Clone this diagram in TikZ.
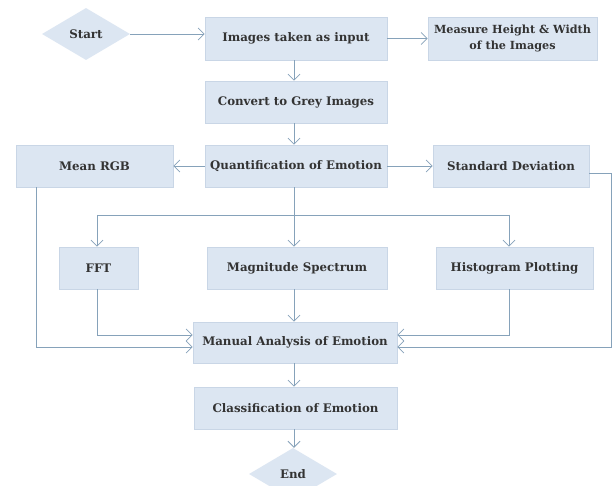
\documentclass[tikz,border=0pt]{standalone}
\usepackage{fontspec}
\setmainfont{DejaVu Serif}
\usetikzlibrary{shapes.geometric,arrows.meta}
\definecolor{boxfill}{HTML}{DCE6F2}
\definecolor{boxline}{HTML}{C9D6E6}
\definecolor{conn}{HTML}{86A2BA}
\definecolor{txt}{HTML}{333333}
\tikzset{
  stepbox/.style={rectangle,fill=boxfill,draw=boxline,line width=0.6pt,inner sep=0pt,
    text=txt,font=\bfseries\fontsize{11.8}{13}\selectfont,align=center},
  twoline/.style={stepbox,font=\bfseries\fontsize{11.2}{16.5}\selectfont},
  termbox/.style={diamond,fill=boxfill,draw=none,inner sep=0pt,
    minimum width=88pt,minimum height=52pt,text=txt,font=\bfseries\fontsize{11.8}{13}\selectfont},
  conline/.style={draw=conn,line width=0.8pt},
  arr/.style={conline,-{Straight Barb[length=6pt,width=12pt,line width=0.8pt]}}
}
\begin{document}
\begin{tikzpicture}[x=1pt,y=-1pt]
\useasboundingbox (0,0) rectangle (613,486);
\fill[white] (0,0) rectangle (613,486);
\node[termbox] (start) at (86,34) {Start};
\node[stepbox,minimum width=182pt,minimum height=43pt] (img) at (296,38.5) {Images taken as input};
\node[twoline,minimum width=169pt,minimum height=43pt] (meas) at (512.5,38.5) {Measure Height \& Width\\of the Images};
\node[stepbox,minimum width=182pt,minimum height=42pt] (conv) at (296,102) {Convert to Grey Images};
\node[stepbox,minimum width=182pt,minimum height=42pt] (quant) at (296,166) {Quantification of Emotion};
\node[stepbox,minimum width=157pt,minimum height=42pt] (mean) at (94.5,166) {Mean RGB};
\node[stepbox,minimum width=156pt,minimum height=42pt] (std) at (511,166) {Standard Deviation};
\node[stepbox,minimum width=79pt,minimum height=42pt] (fft) at (98.5,268) {FFT};
\node[stepbox,minimum width=180pt,minimum height=42pt] (mag) at (297,268) {Magnitude Spectrum};
\node[stepbox,minimum width=157pt,minimum height=42pt] (hist) at (514.5,268) {Histogram Plotting};
\node[stepbox,minimum width=204pt,minimum height=41pt] (man) at (295,342.5) {Manual Analysis of Emotion};
\node[stepbox,minimum width=203pt,minimum height=42pt] (cls) at (295.5,408) {Classification of Emotion};
\node[termbox] (end) at (293,474) {End};

\coordinate (br) at (294,215);
\coordinate (brL) at (97,215);
\coordinate (brR) at (509,215);
\coordinate (m1) at (36,347);
\coordinate (f1) at (97,335);
\coordinate (h1) at (509,335);
\coordinate (s1) at (611,173);
\coordinate (s2) at (611,347);

\draw[arr] (start.east) -- (img.west |- start.east);
\draw[arr] (img.east) -- (meas.west);
\draw[arr] (img.south -| br) -- (conv.north -| br);
\draw[arr] (conv.south -| br) -- (quant.north -| br);
\draw[arr] (quant.west) -- (mean.east);
\draw[arr] (quant.east) -- (std.west);
\draw[arr] (quant.south -| br) -- (mag.north -| br);
\draw[conline] (brL) -- (brR);
\draw[arr] (brL) -- (fft.north -| brL);
\draw[arr] (brR) -- (hist.north -| brR);
\draw[arr] (mean.south -| m1) -- (m1) -- (man.west |- m1);
\draw[arr] (fft.south -| f1) -- (f1) -- (man.west |- f1);
\draw[arr] (mag.south -| br) -- (man.north -| br);
\draw[arr] (hist.south -| h1) -- (h1) -- (man.east |- h1);
\draw[arr] (std.east |- s1) -- (s1) -- (s2) -- (man.east |- s2);
\draw[arr] (man.south -| br) -- (cls.north -| br);
\draw[arr] (cls.south -| br) -- (end.north -| br);
\end{tikzpicture}
\end{document}
